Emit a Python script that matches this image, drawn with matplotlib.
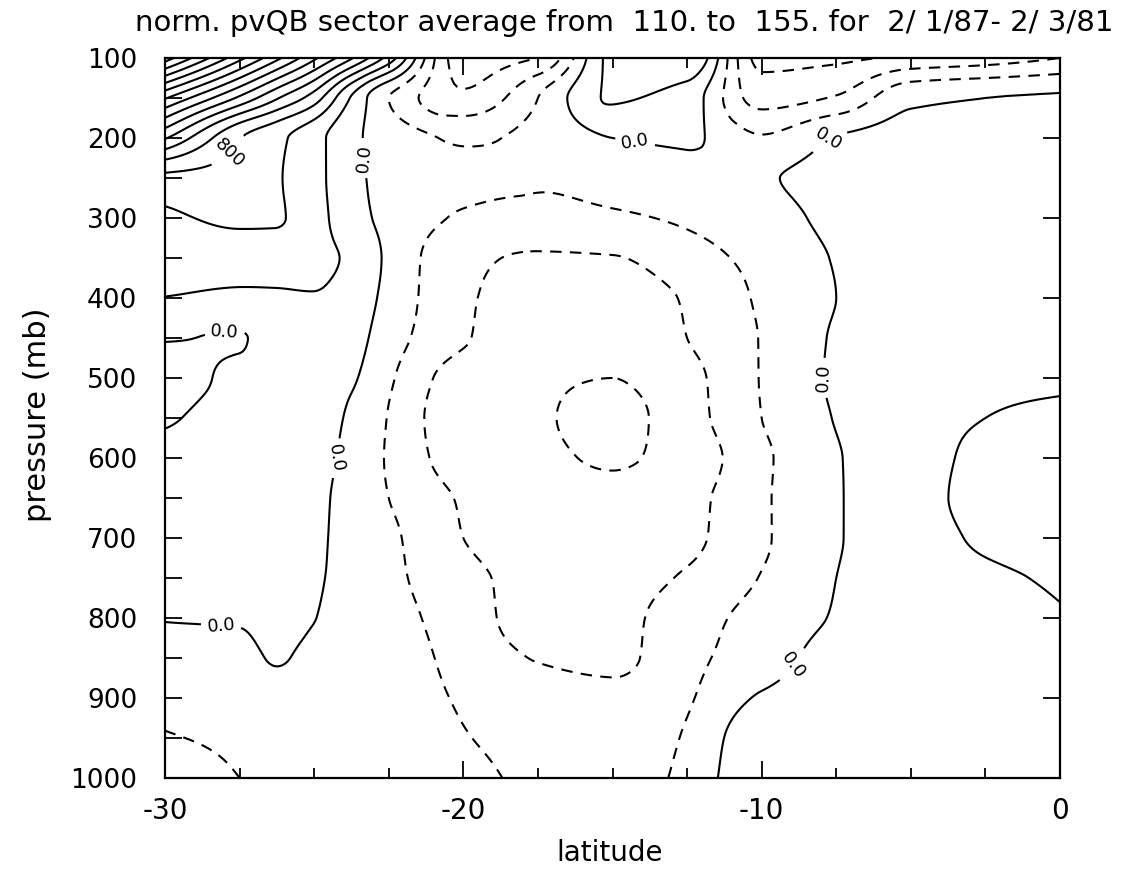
import numpy as np
import matplotlib
matplotlib.use("Agg")
import matplotlib.pyplot as plt
from matplotlib.ticker import MultipleLocator

plt.rcParams["font.family"] = ["DejaVu Sans"]
plt.rcParams["lines.dashed_pattern"] = [5.5, 4.0]

# grid: latitude columns, pressure rows
lats = [-30, -27.5, -26.25, -25, -23.75, -22.5, -20, -17.5, -15, -12.5,
        -10, -7.5, -5, -2.5, 0]
pres = [100, 150, 200, 250, 300, 350, 400, 450, 500, 550,
        600, 650, 700, 750, 800, 850, 900, 950, 1000]

# normalised pvQB, one row per pressure level (west -> east)
pvqb = np.array([
    [15.5, 11.3, 9.25, 7.2, 5.1, 2.6, -3.5, -3.0, 1.3, 2.0, -3.3, -3.2, -2.8, -2.5, -2.0],
    [10.1, 6.8, 5.1, 3.5, 0.9, -1.0, -2.8, -1.0, 1.1, 0.5, -2.4, -1.9, -0.2, 0.0, 0.1],
    [6.1, 3.05, 2.25, 1.35, 0.25, -0.45, -1.1, -0.8, 0.0, 0.15, -0.9, 0.05, 0.3, 0.3, 0.3],
    [2.75, 2.6, 2.1, 1.3, 0.35, -0.4, -0.8, -0.9, -0.6, -0.4, -0.1, 0.3, 0.4, 0.4, 0.4],
    [1.81, 2.2, 2.1, 1.35, 0.45, -0.3, -1.1, -1.3, -1.15, -0.85, -0.4, 0.2, 0.4, 0.45, 0.45],
    [1.4, 1.35, 1.3, 1.2, 0.85, -0.2, -1.75, -2.1, -2.05, -1.4, -0.7, 0.05, 0.4, 0.45, 0.45],
    [0.98, 0.85, 0.9, 0.95, 0.6, -0.3, -1.85, -2.4, -2.5, -1.9, -0.85, 0.0, 0.45, 0.5, 0.55],
    [0.05, -0.05, 0.4, 0.55, 0.35, -0.55, -1.9, -2.6, -2.7, -2.0, -0.95, 0.09, 0.5, 0.6, 0.7],
    [-0.3, 0.15, 0.3, 0.35, 0.1, -0.85, -2.5, -2.85, -3.0, -2.3, -0.95, 0.13, 0.6, 0.8, 0.85],
    [-0.1, 0.3, 0.35, 0.35, -0.15, -1.05, -2.7, -2.9, -3.3, -2.4, -1.0, 0.05, 0.7, 1.0, 1.2],
    [0.3, 0.4, 0.35, 0.3, -0.3, -1.1, -2.5, -2.8, -3.1, -2.6, -1.2, -0.07, 0.6, 1.2, 1.4],
    [0.4, 0.4, 0.3, 0.2, -0.4, -1.0, -2.1, -2.6, -2.75, -2.3, -1.15, -0.08, 0.6, 1.3, 1.5],
    [0.4, 0.4, 0.3, 0.15, -0.35, -0.8, -2.0, -2.5, -2.5, -2.2, -1.15, -0.07, 0.5, 1.15, 1.4],
    [0.3, 0.3, 0.2, 0.08, -0.3, -0.75, -1.7, -2.3, -2.3, -1.9, -0.95, 0.0, 0.5, 0.85, 1.1],
    [0.03, 0.08, 0.3, 0.02, -0.35, -0.65, -1.5, -2.4, -2.25, -1.5, -0.6, 0.07, 0.5, 0.75, 0.95],
    [-0.3, -0.3, 0.1, -0.3, -0.45, -0.6, -1.3, -2.05, -2.2, -1.3, -0.4, 0.3, 0.5, 0.7, 0.85],
    [-0.75, -0.6, -0.5, -0.45, -0.5, -0.6, -1.1, -1.6, -1.75, -1.1, 0.1, 0.4, 0.55, 0.65, 0.75],
    [-1.05, -0.85, -0.65, -0.5, -0.55, -0.6, -0.95, -1.4, -1.6, -0.9, 0.7, 0.75, 0.75, 0.75, 0.75],
    [-1.3, -1.0, -0.75, -0.55, -0.6, -0.65, -0.75, -1.25, -1.45, -0.75, 0.9, 0.85, 0.8, 0.8, 0.8],
])

neg_levels = [-3, -2, -1]
pos_levels = [1, 2, 4, 5, 6, 7, 8, 9, 10, 11, 12, 13, 14, 15]
label_level = 3

title = "norm. pvQB sector average from  110. to  155. for  2/ 1/87- 2/ 3/81"


def pchip(x, y, xn):
    # monotone cubic along axis 0 of y
    x = np.asarray(x, float)
    h = np.diff(x)
    delta = np.diff(y, axis=0) / h[:, None]
    d = np.zeros_like(y)
    d[0] = delta[0]
    d[-1] = delta[-1]
    for k in range(1, len(x) - 1):
        a, b = delta[k - 1], delta[k]
        w1 = 2 * h[k] + h[k - 1]
        w2 = h[k] + 2 * h[k - 1]
        with np.errstate(divide="ignore", invalid="ignore"):
            hm = (w1 + w2) / (w1 / a + w2 / b)
        d[k] = np.where(a * b > 0, hm, 0.0)
    i = np.clip(np.searchsorted(x, xn) - 1, 0, len(x) - 2)
    t = ((xn - x[i]) / h[i])[:, None]
    hi = h[i][:, None]
    return ((2 * t**3 - 3 * t**2 + 1) * y[i] + (t**3 - 2 * t**2 + t) * hi * d[i]
            + (-2 * t**3 + 3 * t**2) * y[i + 1] + (t**3 - t**2) * hi * d[i + 1])


lat_f = np.linspace(lats[0], lats[-1], 301)
p_f = np.linspace(pres[0], pres[-1], 361)
tmp = pchip(lats, pvqb.T, lat_f)          # (lat_f, pres)
field = pchip(pres, tmp.T, p_f)            # (p_f, lat_f)

fig = plt.figure(figsize=(11.22, 8.8), dpi=100)
ax = fig.add_axes([165 / 1122, 102 / 880, 895 / 1122, 720 / 880])

ax.contour(lat_f, p_f, field, levels=neg_levels, colors="k",
           linestyles="dashed", linewidths=1.5)
ax.contour(lat_f, p_f, field, levels=pos_levels, colors="k",
           linestyles="solid", linewidths=1.5)
cs3 = ax.contour(lat_f, p_f, field, levels=[label_level], colors="k",
                 linestyles="solid", linewidths=1.5)
cs0 = ax.contour(lat_f, p_f, field, levels=[0], colors="k",
                 linestyles="solid", linewidths=1.5)

ax.clabel(cs0, fmt={0: "0.0"}, fontsize=13, inline=True, inline_spacing=6,
          manual=[(-28.1, 800), (-24.3, 600), (-23.3, 225), (-28.0, 440),
                  (-14.3, 218), (-7.9, 195), (-7.9, 500), (-9.1, 855)])
ax.clabel(cs3, fmt={label_level: "800"}, fontsize=13, inline=True,
          manual=[(-28.0, 212)])

ax.set_xlim(-30, 0)
ax.set_ylim(1000, 100)
ax.set_xticks([-30, -20, -10, 0])
ax.set_xticklabels(["-30", "-20", "-10", "0"])
ax.set_yticks(pres[::2])
ax.xaxis.set_minor_locator(MultipleLocator(2.5))
ax.yaxis.set_minor_locator(MultipleLocator(50))
ax.tick_params(which="both", direction="in", top=True, right=True, width=1.3)
ax.tick_params(which="major", length=12)
ax.tick_params(which="minor", length=7)
ax.tick_params(axis="y", which="minor", right=False, length=12)
ax.tick_params(axis="x", labelsize=20, pad=14)
ax.tick_params(axis="y", labelsize=19, pad=20)
for s in ax.spines.values():
    s.set_linewidth(1.6)

fig.text(135 / 1122, 1 - 23 / 880, title, ha="left", va="center", fontsize=21)
fig.text(38 / 1122, 1 - 415 / 880, "pressure (mb)", rotation=90,
         ha="center", va="center", fontsize=22)
fig.text(610 / 1122, 1 - 853 / 880, "latitude", ha="center", va="center",
         fontsize=20)

fig.savefig("out.png", dpi=100)
